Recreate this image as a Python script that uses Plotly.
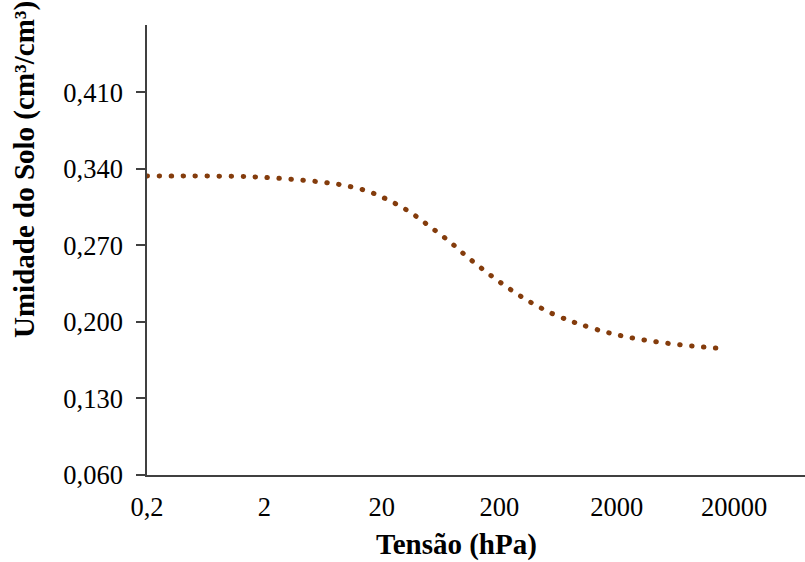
import plotly.graph_objects as go

# Retention curve: soil water content versus tension
tensao_hpa = [0.2, 0.5, 1.4, 2.2, 3.5, 5.8, 9.2, 15, 23, 35, 51, 75, 107, 156,
              230, 344, 523, 793, 977, 1500, 2300, 3600, 5800, 9300, 15000]
umidade = [0.3336, 0.3336, 0.3330, 0.3320, 0.3305, 0.3283, 0.3253, 0.3198,
           0.3113, 0.3003, 0.2875, 0.2738, 0.2595, 0.2455, 0.2323, 0.2201,
           0.2094, 0.2012, 0.1979, 0.1917, 0.1869, 0.1832, 0.1801, 0.1778,
           0.1759]

x_tickvals = [0.2, 2, 20, 200, 2000, 20000]
x_ticktext = ["0,2", "2", "20", "200", "2000", "20000"]
y_tickvals = [0.060, 0.130, 0.200, 0.270, 0.340, 0.410]
y_ticktext = ["0,060", "0,130", "0,200", "0,270", "0,340", "0,410"]

FONT = "Liberation Serif, Times New Roman, serif"
AXIS = "#404040"

fig = go.Figure()
fig.add_trace(go.Scatter(
    x=tensao_hpa, y=umidade, mode="lines",
    line=dict(color="#843C0C", width=5, dash="0.5px,11.5px", shape="spline"),
    hoverinfo="x+y", showlegend=False,
))

fig.update_layout(
    width=805, height=562,
    margin=dict(l=147, r=0, t=25, b=87),
    paper_bgcolor="white", plot_bgcolor="white",
    font=dict(family=FONT, size=26.5, color="#000000"),
    xaxis=dict(
        type="log", range=[-0.699, 4.905],
        tickvals=x_tickvals, ticktext=x_ticktext,
        ticks="", showgrid=False, zeroline=False,
        showline=True, linecolor=AXIS, linewidth=1.5,
        ticklabelstandoff=7,
        tickfont=dict(family=FONT, size=26.5),
    ),
    yaxis=dict(
        range=[0.060, 0.4717],
        tickvals=y_tickvals, ticktext=y_ticktext,
        ticks="outside", ticklen=9, tickwidth=1.5, tickcolor=AXIS,
        showgrid=False, zeroline=False,
        showline=True, linecolor=AXIS, linewidth=1.5,
        ticklabelstandoff=8,
        tickfont=dict(family=FONT, size=26.5),
    ),
    annotations=[
        dict(text="<b>Tensão (hPa)</b>", xref="paper", yref="paper",
             x=(456 - 147) / 658, y=-(544 - 475) / 450,
             xanchor="center", yanchor="middle", showarrow=False,
             font=dict(family=FONT, size=29)),
        dict(text="<b>Umidade do Solo (cm³/cm³)</b>", xref="paper", yref="paper",
             x=-(147 - 25) / 658, y=(475 - 170) / 450, textangle=-90,
             xanchor="center", yanchor="middle", showarrow=False,
             font=dict(family=FONT, size=29)),
    ],
)

# round caps turn the short dashes into dots
round_caps = (
    "document.querySelectorAll('#{plot_id} .js-line')"
    ".forEach(function(p){p.style.strokeLinecap='round';});"
)

fig.write_html("out.html", post_script=round_caps)
